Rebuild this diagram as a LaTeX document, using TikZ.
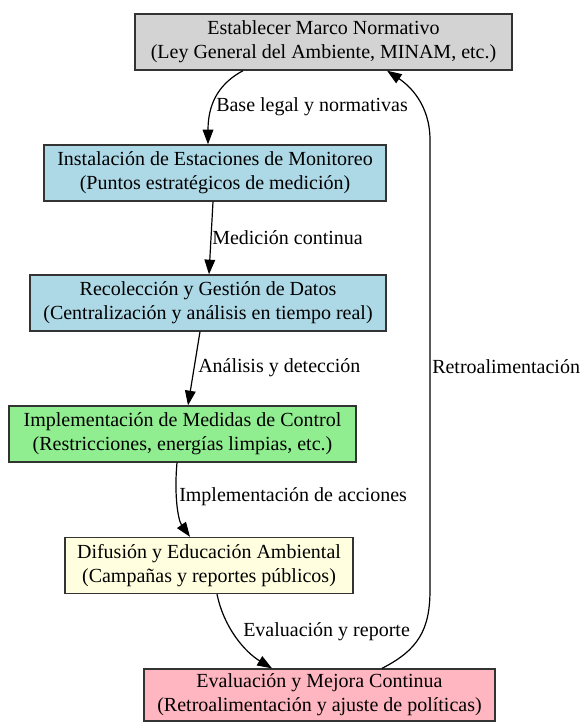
\documentclass[tikz,border=0pt]{standalone}
\usepackage{fontspec}
\setmainfont{Liberation Serif}
\usetikzlibrary{arrows.meta,calc}

\definecolor{boxgray}{HTML}{D3D3D3}
\definecolor{boxblue}{HTML}{ADD8E6}
\definecolor{boxgreen}{HTML}{90EE90}
\definecolor{boxyellow}{HTML}{FFFFE0}
\definecolor{boxpink}{HTML}{FFB6C1}
\definecolor{edgegray}{HTML}{333333}

\begin{document}
\begin{tikzpicture}[
  x=0.75pt, y=-0.75pt,
  every node/.style={font=\fontsize{15}{18}\selectfont},
  stage/.style={draw=edgegray, line width=1pt, rectangle, align=center,
    minimum height=42pt, inner sep=2pt},
  flow/.style={draw=black, line width=0.9pt,
    -{Triangle[length=11pt,width=8pt]}},
  elabel/.style={anchor=west, inner sep=0pt}
]
\useasboundingbox (0,0) rectangle (581,722);

% process stages
\node[stage, fill=boxgray, minimum width=282.75pt] (marco) at (323.5,42)
  {Establecer Marco Normativo\\(Ley General del Ambiente, MINAM, etc.)};
\node[stage, fill=boxblue, minimum width=256.5pt] (estaciones) at (215,173)
  {Instalación de Estaciones de Monitoreo\\(Puntos estratégicos de medición)};
\node[stage, fill=boxblue, minimum width=267pt] (datos) at (208,303)
  {Recolección y Gestión de Datos\\(Centralización y análisis en tiempo real)};
\node[stage, fill=boxgreen, minimum width=260.25pt] (control) at (182.5,434)
  {Implementación de Medidas de Control\\(Restricciones, energías limpias, etc.)};
\node[stage, fill=boxyellow, minimum width=216pt] (difusion) at (209,565.5)
  {Difusión y Educación Ambiental\\(Campañas y reportes públicos)};
\node[stage, fill=boxpink, minimum width=263.25pt, minimum height=39pt] (mejora) at (319.5,695)
  {Evaluación y Mejora Continua\\(Retroalimentación y ajuste de políticas)};

% connectors
\draw[flow] ($(marco.south)+(-80.5,0)$) .. controls (222,82) and (208,100) .. (estaciones.north -| 208,0);
\draw[flow] ($(estaciones.south)+(-2,0)$) -- (datos.north -| 209,0);
\draw[flow] ($(datos.south)+(-8,0)$) -- (control.north -| 188,0);
\draw[flow] ($(control.south)+(-5.5,0)$) .. controls (174,495) and (178,520) .. (difusion.north -| 190,0);
\draw[flow] ($(difusion.south)+(8,0)$) .. controls (224,628) and (245,652) .. (mejora.north -| 272,0);
\draw[flow] ($(mejora.north)+(62.5,0)$) .. controls (418,650) and (430,630) .. (430,590)
  -- (430,140) .. controls (430,105) and (410,86) .. (marco.south -| 387,0);

% connector labels
\node[elabel] (lbase) at (216,107) {Base legal y normativas};
\node[elabel] (lmed) at (212,238) {Medición continua};
\node[elabel] (lana) at (198,368) {Análisis y detección};
\node[elabel] (limp) at (179,497) {Implementación de acciones};
\node[elabel] (leva) at (243,632) {Evaluación y reporte};
\node[elabel] (lret) at (432,367) {Retroalimentación};
\end{tikzpicture}
\end{document}
